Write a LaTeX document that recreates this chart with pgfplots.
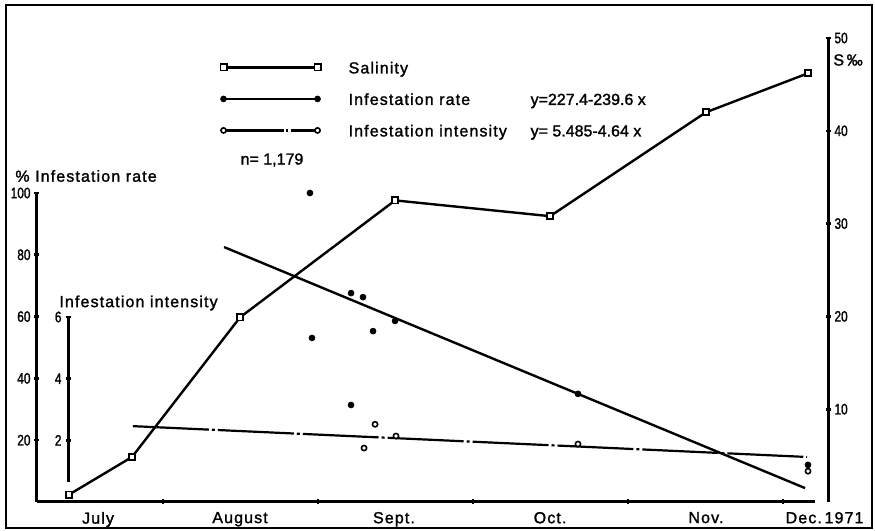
\documentclass[border=0pt]{standalone}
\usepackage{fontspec}
\setmainfont[LetterSpace=7, FakeBold=1.5]{Liberation Sans}
\newfontfamily\numfont[FakeBold=1.5]{Liberation Sans}
\usepackage{pgfplots}
\pgfplotsset{compat=1.18}
\begin{document}
\begin{tikzpicture}
\useasboundingbox (0,0) rectangle (437.5pt,265.5pt);
\draw[line width=1.3pt] (3pt,1.5pt) rectangle (436pt,263pt);
\pgfplotsset{
  every axis/.append style={scale only axis, anchor=south west, clip=false,
    font=\fontsize{8}{9}\selectfont,
    /pgf/number format/assume math mode=true,
    tick label style={font=\numfont\fontsize{7.6}{9}\selectfont},
    yticklabel style={inner sep=1.8pt},
    yticklabel={\scalebox{0.78}[1]{\pgfmathprintnumber{\tick}}},
    every outer x axis line/.append style={line width=1.5pt},
    every outer y axis line/.append style={line width=1.5pt},
    major tick style={line width=1.3pt, black},
    tick align=inside, major tick length=2.5pt},
}
% ---------- infestation rate (left axis, %)
\begin{axis}[at={(18.5pt,14.5pt)}, width=395.5pt, height=154.5pt,
  xmin=0.187, xmax=5.29, ymin=0, ymax=100,
  axis x line=bottom, axis y line=left,
  axis line style={-, line width=1.5pt},
  x axis line style={shorten >=6.5pt},
  xtick={1,2,3,4,5}, xticklabels={},
  extra x ticks={0.581,1.497,2.49,3.497,4.503,5.268},
  extra x tick labels={July,August,Sept.,Oct.,Nov.,Dec.\,1971},
  extra x tick style={major tick length=0pt, tick label style={font=\fontsize{8}{9}\selectfont, yshift=-1.5pt}},
  ytick={20,40,60,80,100}]
\addplot[only marks, mark=*, mark size=1.45pt, mark options={line width=0.4pt}] coordinates {
  (1.948,100) (1.961,53.1) (2.213,67.6) (2.290,66.3) (2.355,55.3)
  (2.497,58.6) (2.213,31.4) (3.677,35.0) (5.161,12.0)};
\addplot[line width=1.2pt, no marks] coordinates {(1.394,82.5) (5.142,4.5)};
\end{axis}
% ---------- salinity (right axis)
\begin{axis}[at={(18.5pt,14.5pt)}, width=395.5pt, height=232pt,
  xmin=0.187, xmax=5.29, ymin=0, ymax=50,
  axis x line=none, axis y line=right,
  axis line style={-, line width=1.5pt},
  ytick={10,20,30,40,50},
  legend style={at={(0.2314,0.9504)}, anchor=north west, draw=none, fill=none,
    inner sep=0pt, row sep=9.75pt, column sep=14pt,
    nodes={inner sep=0pt, text height=6pt, text depth=0pt, anchor=west},
    font=\fontsize{8}{9}\selectfont},
  legend cell align=left,
  legend image code/.code={\draw[#1] plot coordinates {(0pt,0pt) (47pt,0pt)};}]
\addplot[line width=1.2pt, mark=square*, mark size=1.55pt, mark options={fill=white, line width=0.9pt}] coordinates {
  (0.394,0.8) (0.8,4.85) (1.497,19.9) (2.497,32.5) (3.497,30.8) (4.503,42.0) (5.161,46.2)};
\addlegendentry{Salinity}
\addlegendimage{line width=1.2pt, mark=*, mark size=1.45pt, mark options={line width=0.4pt}}
\addlegendentry{\makebox[91pt][l]{Infestation rate}{\numfont y=227.4-239.6 x}}
\addlegendimage{line width=1.1pt, dash pattern=on 30pt off 1.2pt on 1.2pt off 1.2pt, mark=*, mark size=1.3pt, mark options={solid, fill=white, line width=0.8pt}}
\addlegendentry{\makebox[91pt][l]{Infestation intensity}{\numfont y= 5.485-4.64 x}}
\end{axis}
% ---------- infestation intensity (inner axis)
\begin{axis}[at={(34pt,14.5pt)}, width=380pt, height=92.5pt,
  xmin=0.387, xmax=5.29, ymin=0, ymax=6,
  axis x line=none, axis y line=left,
  axis line style={-, line width=1.5pt},
  y axis line style={shorten <=10pt},
  ytick={2,4,6}]
\addplot[only marks, mark=*, mark size=1.3pt, mark options={fill=white, line width=0.8pt}] coordinates {
  (2.368,2.52) (2.297,1.75) (2.503,2.14) (3.677,1.88) (5.161,1.0)};
\addplot[line width=1.1pt, no marks, dash pattern=on 38pt off 1.5pt on 1.5pt off 1.5pt] coordinates {(0.806,2.46) (5.155,1.46)};
\end{axis}
\begin{scope}[font=\fontsize{8}{9}\selectfont]
\node[anchor=west, inner sep=0pt] at (7.5pt,177.5pt) {\% Infestation rate};
\node[anchor=west, inner sep=0pt] at (29.5pt,114pt) {Infestation intensity};
\node[inner sep=0pt] at (136pt,185.5pt) {\numfont n= 1,179};
\node[anchor=west, inner sep=0pt] at (416.5pt,235.5pt) {S\,‰};
\end{scope}
\end{tikzpicture}
\end{document}
